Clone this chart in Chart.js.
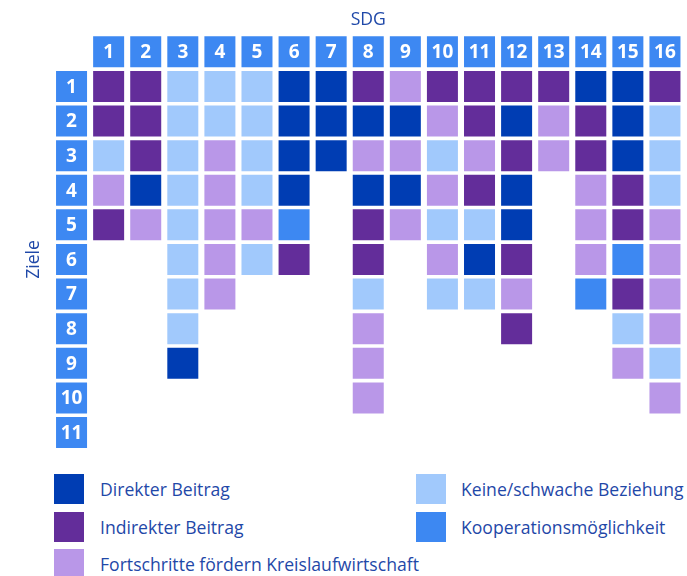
<!DOCTYPE html>
<html lang="de">
<head>
<meta charset="utf-8">
<title>SDG Ziele</title>
<script src="https://cdn.jsdelivr.net/npm/chart.js@4.4.1/dist/chart.umd.min.js"></script>
<style>
  html, body { margin: 0; padding: 0; background: #fff; }
  body { width: 687px; height: 576px; position: relative; overflow: hidden; font-family: "Open Sans", sans-serif; }
  #wrap { position: absolute; left: 0; top: 0; width: 687px; height: 460px; }
  .item { position: absolute; display: flex; align-items: center; font-size: 17.6px; color: #1f48a8; white-space: nowrap; }
  .swatch { width: 30px; height: 30px; flex: none; }
</style>
</head>
<body>
<div id="wrap"><canvas id="sdgChart"></canvas></div>
<div id="legend"></div>
<script>
var sdgLabels = ['1', '2', '3', '4', '5', '6', '7', '8', '9', '10', '11', '12', '13', '14', '15', '16'];
var zielLabels = ['1', '2', '3', '4', '5', '6', '7', '8', '9', '10', '11'];

var categoryCodes = ['D', 'I', 'F', 'K', 'C'];
var categoryNames = ['Direkter Beitrag', 'Indirekter Beitrag', 'Fortschritte fördern Kreislaufwirtschaft',
  'Keine/schwache Beziehung', 'Kooperationsmöglichkeit'];
var categoryColors = ['#003db3', '#632d9a', '#b997e8', '#a1c9fc', '#3d88f2'];
var headerColor = '#3d88f2';
var textColor = '#1f48a8';

// Bewertung je SDG, von Ziel 1 abwaerts
var sdg1 = ['I', 'I', 'K', 'F', 'I'];
var sdg2 = ['I', 'I', 'I', 'D', 'F'];
var sdg3 = ['K', 'K', 'K', 'K', 'K', 'K', 'K', 'K', 'D'];
var sdg4 = ['K', 'K', 'F', 'F', 'F', 'F', 'F'];
var sdg5 = ['K', 'K', 'K', 'K', 'F', 'K'];
var sdg6 = ['D', 'D', 'D', 'D', 'C', 'I'];
var sdg7 = ['D', 'D', 'D'];
var sdg8 = ['I', 'D', 'F', 'D', 'I', 'I', 'K', 'F', 'F', 'F'];
var sdg9 = ['F', 'D', 'F', 'D', 'F'];
var sdg10 = ['I', 'F', 'K', 'F', 'K', 'F', 'K'];
var sdg11 = ['I', 'I', 'F', 'I', 'K', 'D', 'K'];
var sdg12 = ['I', 'D', 'I', 'D', 'D', 'I', 'F', 'I'];
var sdg13 = ['I', 'F', 'F'];
var sdg14 = ['D', 'I', 'I', 'F', 'F', 'F', 'C'];
var sdg15 = ['D', 'D', 'D', 'I', 'I', 'C', 'I', 'K', 'F'];
var sdg16 = ['I', 'K', 'K', 'K', 'F', 'F', 'F', 'F', 'K', 'F'];

var sdgColumns = [sdg1, sdg2, sdg3, sdg4, sdg5, sdg6, sdg7, sdg8, sdg9, sdg10, sdg11, sdg12, sdg13, sdg14, sdg15, sdg16];

var half = 0.4476; // halbe Zellhoehe in Zeilen

function cell(x, row) {
  return { x: x, y: [row - half, row + half] };
}

var dataSets = [];

// Kopfzeile und Zielspalte
var headerData = [];
sdgLabels.forEach(function(l) { headerData.push(cell(l, 0)); });
zielLabels.forEach(function(l, i) { headerData.push(cell('Ziele', i + 1)); });
dataSets.push({ label: 'Kopf', data: headerData, backgroundColor: headerColor });

categoryCodes.forEach(function(code, c) {
  var d = [];
  sdgColumns.forEach(function(col, j) {
    col.forEach(function(v, i) {
      if (v === code) d.push(cell(sdgLabels[j], i + 1));
    });
  });
  dataSets.push({ label: categoryNames[c], data: d, backgroundColor: categoryColors[c] });
});

var labelPlugin = {
  id: 'cellLabels',
  afterDatasetsDraw: function(chart) {
    var ctx = chart.ctx;
    var xs = chart.scales.x, ys = chart.scales.y;
    ctx.save();
    ctx.fillStyle = '#ffffff';
    ctx.font = 'bold 19px "Open Sans"';
    ctx.textAlign = 'center';
    ctx.textBaseline = 'middle';
    sdgLabels.forEach(function(l) {
      ctx.fillText(l, xs.getPixelForValue(xs.getLabels().indexOf(l)), ys.getPixelForValue(0) + 1);
    });
    zielLabels.forEach(function(l, i) {
      ctx.fillText(l, xs.getPixelForValue(0), ys.getPixelForValue(i + 1) + 1);
    });
    // Achsentitel Ziele
    ctx.fillStyle = textColor;
    ctx.font = '17.6px "Open Sans"';
    ctx.translate(34, ys.getPixelForValue(6));
    ctx.rotate(-Math.PI / 2);
    ctx.fillText('Ziele', 0, 0);
    ctx.restore();
  }
};

var sdgChart = new Chart(document.getElementById('sdgChart'), {
  type: 'bar',
  data: { labels: ['Ziele'].concat(sdgLabels), datasets: dataSets },
  options: {
    responsive: true,
    maintainAspectRatio: false,
    animation: false,
    layout: { padding: { left: 53, right: 3.5, top: 5.4, bottom: 10.2 } },
    datasets: { bar: { grouped: false, categoryPercentage: 1, barPercentage: 0.836, borderWidth: 0 } },
    plugins: { legend: { display: false }, tooltip: { enabled: false } },
    scales: {
      x: {
        type: 'category',
        position: 'top',
        offset: true,
        grid: { display: false, drawTicks: false },
        border: { display: false },
        ticks: { display: false },
        title: { display: true, text: 'SDG', color: textColor, font: { family: 'Open Sans', size: 17.6 }, padding: { top: 4, bottom: 4 } }
      },
      y: {
        type: 'linear',
        reverse: true,
        min: -0.5,
        max: 11.5,
        display: false
      }
    }
  },
  plugins: [labelPlugin]
});

// Legende in zwei Spalten
var legendEl = document.getElementById('legend');
categoryNames.forEach(function(name, i) {
  var colIdx = i < 3 ? 0 : 1;
  var rowIdx = i < 3 ? i : i - 3;
  var item = document.createElement('div');
  item.className = 'item';
  item.style.left = (colIdx ? 416 : 54) + 'px';
  item.style.top = (474 + rowIdx * 37.5) + 'px';
  var sw = document.createElement('span');
  sw.className = 'swatch';
  sw.style.background = categoryColors[i];
  sw.style.marginRight = (colIdx ? 15 : 16) + 'px';
  var tx = document.createElement('span');
  tx.textContent = name;
  item.appendChild(sw);
  item.appendChild(tx);
  legendEl.appendChild(item);
});
</script>
</body>
</html>
